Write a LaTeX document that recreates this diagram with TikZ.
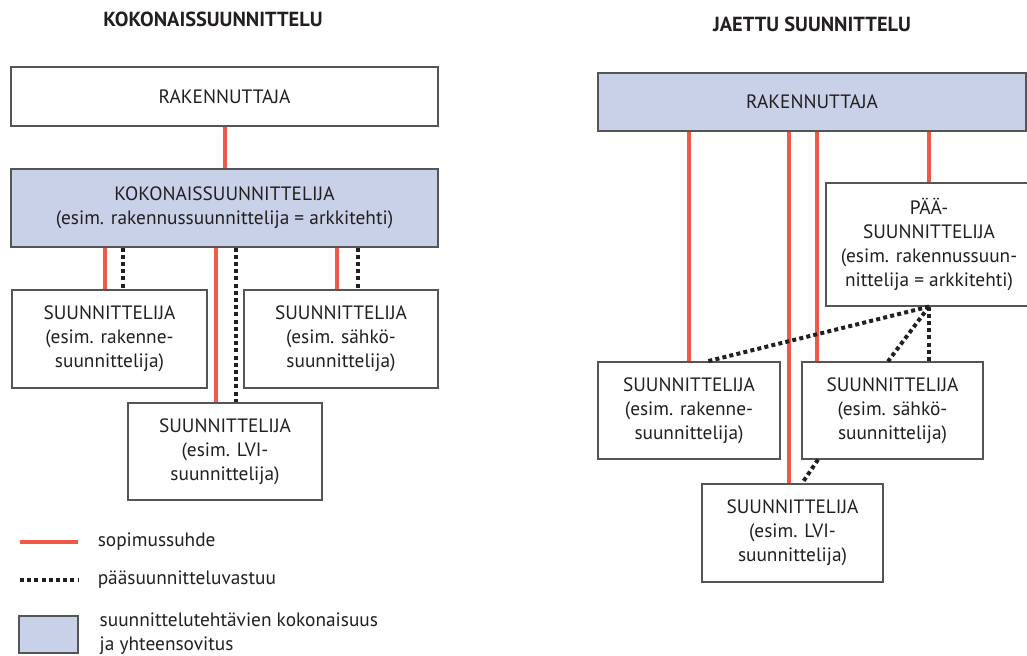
\documentclass[tikz,border=0pt]{standalone}
\usepackage{fontspec}
\setmainfont{PT Sans}
\definecolor{sopred}{HTML}{F05A45}
\definecolor{kokblue}{HTML}{C8D1E8}
\definecolor{boxgray}{HTML}{555555}
\definecolor{ink}{HTML}{231F20}
\begin{document}
\begin{tikzpicture}[x=0.75pt,y=-0.75pt,
    every node/.style={text=ink,font=\fontsize{14.5}{18}\selectfont},
    box/.style={draw=boxgray,line width=0.9pt,fill=white,align=center,inner sep=0pt},
    kokbox/.style={box,fill=kokblue},
    sopimus/.style={draw=sopred,line width=3pt},
    vastuu/.style={draw=ink,line width=3pt,dash pattern=on 3pt off 2.4pt},
    otsikko/.style={font=\bfseries\fontsize{15.3}{18}\selectfont}]
    \useasboundingbox (0,0) rectangle (1027,656);
    \node[otsikko] (t1) at (213,19) {KOKONAISSUUNNITTELU};
    \node[otsikko] (t2) at (812,24) {JAETTU SUUNNITTELU};
    \node[box,minimum width=320.25pt,minimum height=44.25pt] (rak1) at (224.5,96.5) {RAKENNUTTAJA};
    \node[kokbox,minimum width=320.25pt,minimum height=58.5pt] (kok) at (224.5,208)
      {KOKONAISSUUNNITTELIJA\\(esim. rakennussuunnittelija = arkkitehti)};
    \node[box,minimum width=146.25pt,minimum height=73.5pt] (a1) at (109.5,339)
      {SUUNNITTELIJA\\(esim. rakenne-\\suunnittelija)};
    \node[box,minimum width=145.5pt,minimum height=73.5pt] (c1) at (341,339)
      {SUUNNITTELIJA\\(esim. sähkö-\\suunnittelija)};
    \node[box,minimum width=145.5pt,minimum height=72.75pt] (b1) at (225,451.5)
      {SUUNNITTELIJA\\(esim. LVI-\\suunnittelija)};
    \draw[sopimus] (rak1.south) -- (kok.north);
    \draw[sopimus] (105,0 |- kok.south) -- (105,0 |- a1.north);
    \draw[vastuu] (123,0 |- kok.south) -- (123,0 |- a1.north);
    \draw[sopimus] (216,0 |- kok.south) -- (216,0 |- b1.north);
    \draw[vastuu] (236,0 |- kok.south) -- (236,0 |- b1.north);
    \draw[sopimus] (337,0 |- kok.south) -- (337,0 |- c1.north);
    \draw[vastuu] (358,0 |- kok.south) -- (358,0 |- c1.north);
    \node[kokbox,minimum width=321pt,minimum height=43.5pt] (rak2) at (812,102) {RAKENNUTTAJA};
    \node[box,minimum width=154.5pt,minimum height=92.25pt] (paa) at (929,244.5)
      {PÄÄ-\\SUUNNITTELIJA\\(esim. rakennussuun-\\nittelija = arkkitehti)};
    \node[box,minimum width=136.5pt,minimum height=72.75pt] (a2) at (689,410.5)
      {SUUNNITTELIJA\\(esim. rakenne-\\suunnittelija)};
    \node[box,minimum width=135.75pt,minimum height=72.75pt] (c2) at (892.5,410.5)
      {SUUNNITTELIJA\\(esim. sähkö-\\suunnittelija)};
    \node[box,minimum width=135.75pt,minimum height=73.5pt] (b2) at (792.5,533)
      {SUUNNITTELIJA\\(esim. LVI-\\suunnittelija)};
    \draw[sopimus] (689,0 |- rak2.south) -- (a2.north);
    \draw[sopimus] (789,0 |- rak2.south) -- (789,0 |- b2.north);
    \draw[sopimus] (817,0 |- rak2.south) -- (817,0 |- c2.north);
    \draw[sopimus] (929,0 |- rak2.south) -- (paa.north);
    \draw[vastuu] (paa.south) -- (707,0 |- a2.north);
    \draw[vastuu] (paa.south) -- (888,0 |- c2.north);
    \draw[vastuu] (paa.south) -- (929,0 |- c2.north);
    \draw[vastuu] (818,0 |- c2.south) -- (802,0 |- b2.north);
    \coordinate (s1) at (20,542);
    \coordinate (s2) at (78,542);
    \coordinate (v1) at (20,580);
    \coordinate (v2) at (78,580);
    \draw[sopimus] (s1) -- (s2) node[right=10pt,anchor=west] (ls) {sopimussuhde};
    \draw[vastuu] (v1) -- (v2) node[right=10pt,anchor=west] (lv) {pääsuunnitteluvastuu};
    \node[kokbox,minimum width=44.25pt,minimum height=27.75pt] (lk) at (48.5,634.5) {};
    \node[anchor=west,align=left] (lkt) at (95,634) {suunnittelutehtävien kokonaisuus\\ja yhteensovitus};
\end{tikzpicture}
\end{document}
